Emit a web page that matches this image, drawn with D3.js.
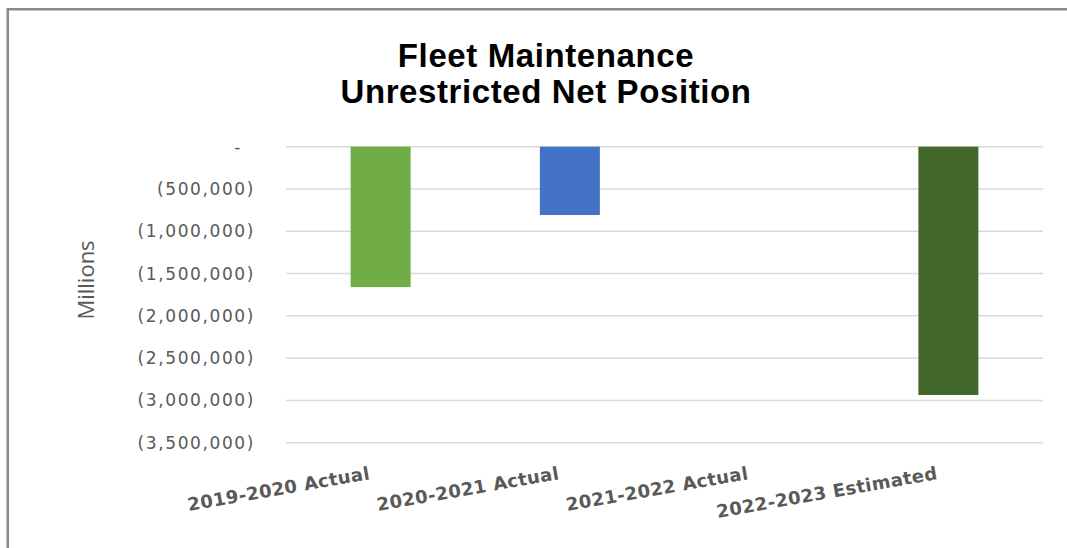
<!DOCTYPE html>
<html>
<head>
<meta charset="utf-8">
<script src="https://cdn.jsdelivr.net/npm/d3@7"></script>
<style>
  html, body { margin: 0; padding: 0; background: #fff; }
  svg { display: block; }
</style>
</head>
<body>
<svg id="chart" width="1067" height="548"></svg>
<script>
// ---- data ----
const categories = ["2019-2020 Actual", "2020-2021 Actual", "2021-2022 Actual", "2022-2023 Estimated"];
const values = [-1660000, -808000, 0, -2936000];
const barColors = ["#70AD47", "#4472C4", "#A5A5A5", "#43682B"];
const tickValues = [0, -500000, -1000000, -1500000, -2000000, -2500000, -3000000, -3500000];
const tickLabels = ["-", "(500,000)", "(1,000,000)", "(1,500,000)", "(2,000,000)", "(2,500,000)", "(3,000,000)", "(3,500,000)"];
const titleLines = ["Fleet Maintenance", "Unrestricted Net Position"];
const yTitle = "Millions";

const svg = d3.select("#chart");
const W = 1067, H = 548;

// frame (partial border as in picture)
svg.append("path")
  .attr("d", `M7.75,${H} V9.25 H${W}`)
  .attr("fill", "none")
  .attr("stroke", "#898989")
  .attr("stroke-width", 2.5);

// scales
const x = d3.scaleBand().domain(categories).range([286, 1043]).paddingInner(0.683).paddingOuter(0.3415);
const y = d3.scaleLinear().domain([-3500000, 0]).range([442.7, 146.7]);

// title
svg.append("text")
  .attr("x", 546).attr("y", 67)
  .attr("text-anchor", "middle")
  .style("font-family", "'Liberation Sans', Arial, sans-serif")
  .style("font-weight", "bold")
  .style("font-size", "33px")
  .style("letter-spacing", "0.6px")
  .attr("fill", "#000")
  .selectAll("tspan").data(titleLines).join("tspan")
  .attr("x", 546).attr("dy", (d, i) => i === 0 ? 0 : 36)
  .text(d => d);

// gridlines
svg.append("g").selectAll("line").data(tickValues).join("line")
  .attr("x1", x.range()[0]).attr("x2", x.range()[1])
  .attr("y1", d => y(d)).attr("y2", d => y(d))
  .attr("stroke", "#D9D9D9").attr("stroke-width", 1.5);

// y axis
const yAxis = d3.axisLeft(y)
  .tickValues(tickValues)
  .tickFormat((d, i) => tickLabels[i])
  .tickSize(0).tickPadding(0);
const gy = svg.append("g").attr("transform", "translate(255,0)").call(yAxis);
gy.select(".domain").remove();
gy.selectAll("text")
  .style("font-family", "'DejaVu Sans', sans-serif")
  .style("font-size", "17px")
  .style("letter-spacing", "1.6px")
  .attr("fill", "#595959")
  .attr("dx", (d, i) => i === 0 ? -13 : 0);

// y title
svg.append("text")
  .attr("transform", "translate(94,280) rotate(-90)")
  .attr("text-anchor", "middle")
  .style("font-family", "'Open Sans', sans-serif")
  .style("font-size", "22px")
  .attr("fill", "#595959")
  .text(yTitle);

// bars
svg.append("g").selectAll("rect").data(values).join("rect")
  .attr("x", (d, i) => x(categories[i]))
  .attr("width", x.bandwidth())
  .attr("y", d => y(Math.max(0, d)))
  .attr("height", d => Math.abs(y(d) - y(0)))
  .attr("fill", (d, i) => barColors[i]);

// x labels
svg.append("g").selectAll("text").data(categories).join("text")
  .attr("transform", d => `translate(${x(d) + x.bandwidth() / 2 - 10},479) rotate(-10)`)
  .attr("text-anchor", "end")
  .style("font-family", "'DejaVu Sans', sans-serif")
  .style("font-weight", "bold")
  .style("font-size", "18px")
  .style("letter-spacing", "0.4px")
  .attr("fill", "#595959")
  .text(d => d);
</script>
</body>
</html>
